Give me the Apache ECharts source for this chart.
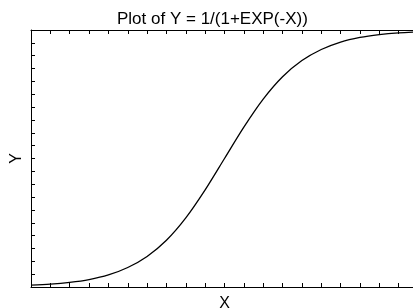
<!DOCTYPE html>
<html>
<head>
<meta charset="utf-8">
<script src="https://cdn.jsdelivr.net/npm/echarts@6/dist/echarts.min.js"></script>
<style>
  html, body { margin: 0; padding: 0; background: #fff; }
  #chart { width: 413px; height: 308px; }
</style>
</head>
<body>
<div id="chart"></div>
<script>
// values, X from -5 to 5 in steps of 0.5
const xValues = [-5, -4.5, -4, -3.5, -3, -2.5, -2, -1.5, -1, -0.5, 0,
  0.5, 1, 1.5, 2, 2.5, 3, 3.5, 4, 4.5, 5];
const yValues = [0.007, 0.011, 0.018, 0.029, 0.047, 0.076, 0.119, 0.182, 0.269, 0.378, 0.5,
  0.622, 0.731, 0.818, 0.881, 0.924, 0.953, 0.971, 0.982, 0.989, 0.993];

const titleText = "Plot of Y = 1/(1+EXP(-X))";
const xName = "X";
const yName = "Y";

const font = "Liberation Sans, Arial, sans-serif";

const chart = echarts.init(document.getElementById("chart"), null, { renderer: "canvas" });

const axisBase = {
  type: "value",
  axisLine: { show: true, onZero: false, lineStyle: { color: "#000", width: 1 } },
  axisTick: { show: true, inside: true, length: 4, lineStyle: { color: "#000", width: 1 } },
  axisLabel: { show: false },
  splitLine: { show: false },
};

chart.setOption({
  animation: false,
  title: {
    text: titleText,
    left: 112,
    top: 6,
    textStyle: { fontFamily: font, fontSize: 17, fontWeight: "normal", color: "#000" },
  },
  grid: { left: 31, top: 30, right: -5, bottom: 21, containLabel: false, outerBoundsMode: "none" },
  xAxis: [
    Object.assign({}, axisBase, {
      position: "bottom", min: -5, max: 5, interval: 0.5,
      name: xName, nameLocation: "middle", nameGap: 9,
      nameTextStyle: { fontFamily: font, fontSize: 16, color: "#000" },
    }),
    Object.assign({}, axisBase, { position: "top", min: -5, max: 5, interval: 0.5 }),
  ],
  yAxis: [
    Object.assign({}, axisBase, {
      position: "left", min: 0, max: 1, interval: 0.05,
      name: yName, nameLocation: "middle", nameGap: 6,
      nameTextStyle: { fontFamily: font, fontSize: 16, color: "#000" },
    }),
    Object.assign({}, axisBase, { position: "right", min: 0, max: 1, interval: 0.05 }),
  ],
  series: [{
    type: "line",
    data: xValues.map((x, i) => [x, yValues[i]]),
    smooth: 0.3,
    symbol: "none",
    lineStyle: { color: "#000", width: 1.3 },
  }],
});
</script>
</body>
</html>
